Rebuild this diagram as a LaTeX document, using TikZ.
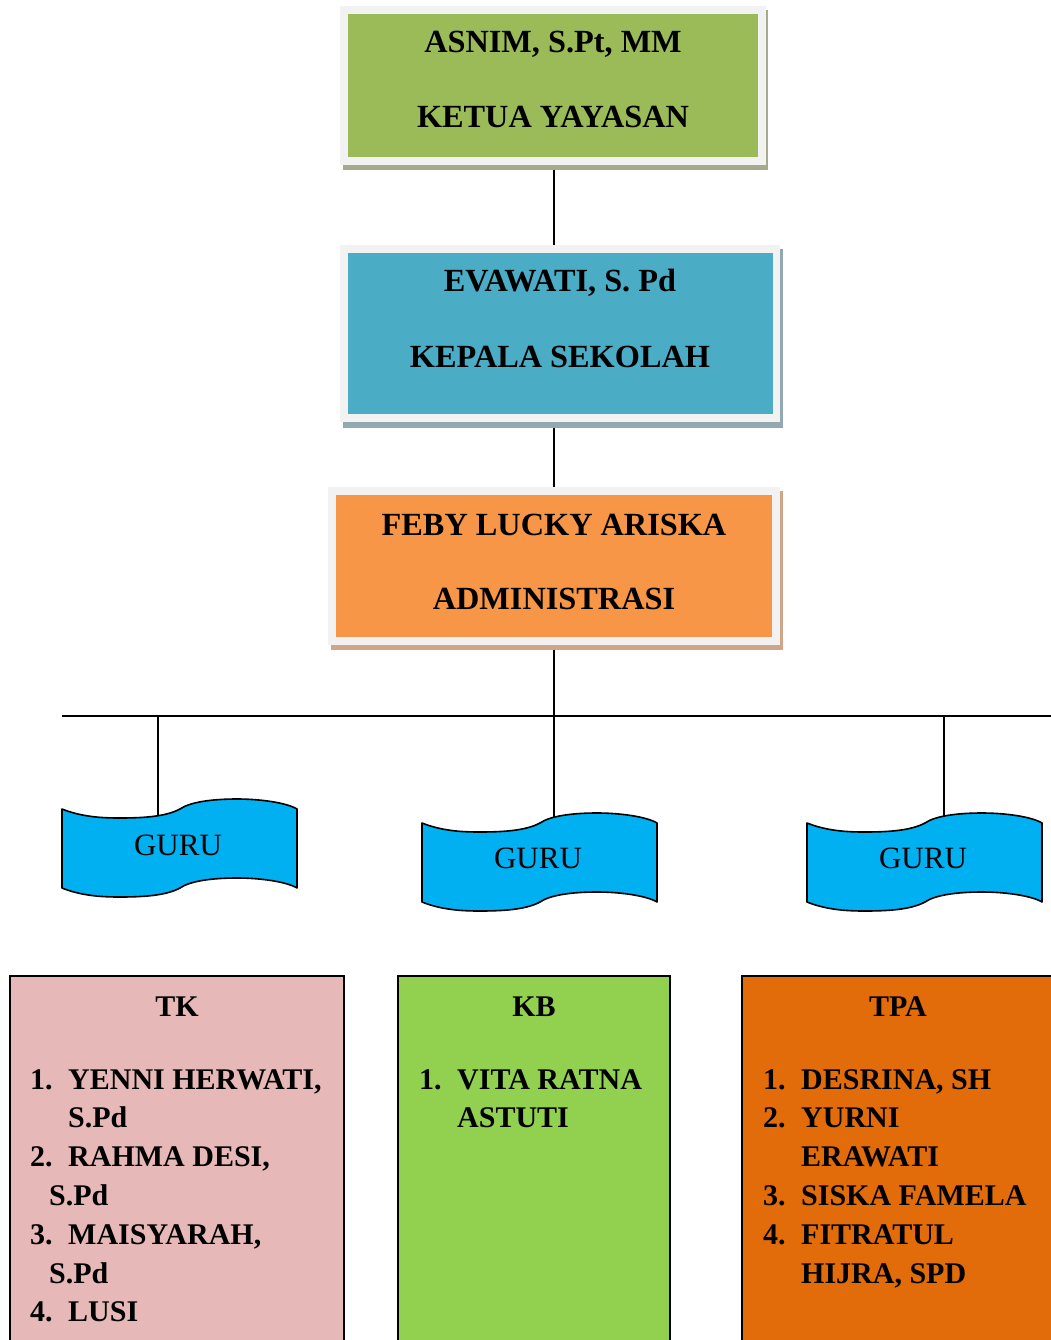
\documentclass[tikz,border=0pt]{standalone}
\usepackage{fontspec}
\setmainfont{Liberation Serif}
\usetikzlibrary{backgrounds}
\definecolor{cGreen}{HTML}{9BBB59}
\definecolor{cBlue}{HTML}{4BACC6}
\definecolor{cOrange}{HTML}{F79646}
\definecolor{sGreen}{HTML}{A4AB8D}
\definecolor{sBlue}{HTML}{93A9B1}
\definecolor{sOrange}{HTML}{D0A688}
\definecolor{frameGray}{HTML}{F2F2F2}
\definecolor{guruBlue}{HTML}{00B0F0}
\definecolor{tkPink}{HTML}{E6B8B7}
\definecolor{kbGreen}{HTML}{92D050}
\definecolor{tpaOrange}{HTML}{E26B0A}
\tikzset{
  plain/.style={inner sep=0pt, outer sep=0pt, draw=none},
  ttl/.style={font=\fontsize{32.3}{36}\selectfont\bfseries, inner sep=0pt, anchor=base},
  lst/.style={font=\fontsize{30}{36}\selectfont\bfseries, inner sep=0pt, anchor=base west},
  gtx/.style={font=\fontsize{31}{36}\selectfont, inner sep=0pt},
  conn/.style={draw=black, line width=1.3pt},
  unitbox/.style={draw=black, line width=1.5pt, inner sep=0pt, outer sep=0pt, anchor=north west, minimum height=420},
  wavestyle/.style={draw=black, fill=guruBlue, line width=1.6pt, line join=round},
  wave/.pic={
    \path[wavestyle] (0,0) .. controls (20,8) and (40,9) .. (58,9)
      .. controls (85,9) and (105,7) .. (118,0)
      .. controls (128,-7) and (150,-10) .. (175,-10)
      .. controls (200,-10) and (225,-6) .. (235,0)
      -- (235,79)
      .. controls (225,73) and (200,69) .. (175,69)
      .. controls (150,69) and (128,72) .. (118,79)
      .. controls (105,86) and (85,88) .. (58,88)
      .. controls (40,88) and (20,87) .. (0,79) -- cycle;
  }
}
\begin{document}
\begin{tikzpicture}[x=1pt,y=-1pt]
\useasboundingbox (0,0) rectangle (1051,1340);
\clip (0,0) rectangle (1051,1340);

% ---- box 1
\node[plain, fill=sGreen, minimum width=425, minimum height=160] (b1s) at (555.5,90) {};
\node[plain, fill=frameGray, minimum width=426, minimum height=159] (b1) at (553,85.5) {};
\node[plain, fill=cGreen, minimum width=410, minimum height=143] (b1i) at (553,85.5) {};
\node[ttl] (t1a) at (553,53) {ASNIM, S.Pt, MM};
\node[ttl] (t1b) at (553,128) {KETUA YAYASAN};

% ---- box 2
\node[plain, fill=sBlue, minimum width=440, minimum height=179] (b2s) at (563,338.5) {};
\node[plain, fill=frameGray, minimum width=440, minimum height=177] (b2) at (560,333.5) {};
\node[plain, fill=cBlue, minimum width=425, minimum height=161] (b2i) at (560.5,333.5) {};
\node[ttl] (t2a) at (560,291) {EVAWATI, S. Pd};
\node[ttl] (t2b) at (560,367) {KEPALA SEKOLAH};

% ---- box 3
\node[plain, fill=sOrange, minimum width=452, minimum height=159] (b3s) at (557,570.5) {};
\node[plain, fill=frameGray, minimum width=452, minimum height=158] (b3) at (554,566) {};
\node[plain, fill=cOrange, minimum width=436, minimum height=142] (b3i) at (554,566) {};
\node[ttl] (t3a) at (554,535) {FEBY LUCKY ARISKA};
\node[ttl] (t3b) at (554,609) {ADMINISTRASI};

% ---- bus coordinates
\coordinate (busL) at (62,716);
\coordinate (busR) at (1051,716);
\coordinate (jL) at (158,716);
\coordinate (jM) at (554,716);
\coordinate (jR) at (944,716);

% ---- GURU waves
\pic at (62,809) {wave};
\node[gtx] (gL) at (178,845) {GURU};
\pic at (422,823) {wave};
\node[gtx] (gM) at (538,858) {GURU};
\pic at (807,823) {wave};
\node[gtx] (gR) at (923,858) {GURU};

% ---- connectors (behind)
\begin{pgfonlayer}{background}
\draw[conn] (b1.south -| jM) -- (b2.north -| jM);
\draw[conn] (b2.south -| jM) -- (b3.north -| jM);
\draw[conn] (b3.south -| jM) -- (jM) -- (jM |- gM.center);
\draw[conn] (busL) -- (busR);
\draw[conn] (jL) -- (jL |- gL.center);
\draw[conn] (jR) -- (jR |- gR.center);
\end{pgfonlayer}

% ---- unit boxes
\node[unitbox, fill=tkPink, minimum width=334] (tk) at (10,976) {};
\node[unitbox, fill=kbGreen, minimum width=272] (kb) at (398,976) {};
\node[unitbox, fill=tpaOrange, minimum width=312] (tpa) at (742,976) {};

\node[ttl, font=\fontsize{30}{36}\selectfont\bfseries] (tkT) at (177,1016) {TK};
\node[ttl, font=\fontsize{30}{36}\selectfont\bfseries] (kbT) at (534,1016) {KB};
\node[ttl, font=\fontsize{30}{36}\selectfont\bfseries] (tpaT) at (898,1016) {TPA};

% TK list
\node[lst] (tk1n) at (30,1089) {1.};
\node[lst] (tk1) at (68,1089) {YENNI HERWATI,};
\node[lst] (tk1b) at (68,1127.8) {S.Pd};
\node[lst] (tk2n) at (30,1166.6) {2.};
\node[lst] (tk2) at (68,1166.6) {RAHMA DESI,};
\node[lst] (tk2b) at (49,1205.4) {S.Pd};
\node[lst] (tk3n) at (30,1244.2) {3.};
\node[lst] (tk3) at (68,1244.2) {MAISYARAH,};
\node[lst] (tk3b) at (49,1283) {S.Pd};
\node[lst] (tk4n) at (30,1321.8) {4.};
\node[lst] (tk4) at (68,1321.8) {LUSI};

% KB list
\node[lst] (kb1n) at (419,1089) {1.};
\node[lst] (kb1) at (457,1089) {VITA RATNA};
\node[lst] (kb1b) at (457,1127.8) {ASTUTI};

% TPA list
\node[lst] (tp1n) at (763,1089) {1.};
\node[lst] (tp1) at (801,1089) {DESRINA, SH};
\node[lst] (tp2n) at (763,1127.8) {2.};
\node[lst] (tp2) at (801,1127.8) {YURNI};
\node[lst] (tp2b) at (801,1166.6) {ERAWATI};
\node[lst] (tp3n) at (763,1205.4) {3.};
\node[lst] (tp3) at (801,1205.4) {SISKA FAMELA};
\node[lst] (tp4n) at (763,1244.2) {4.};
\node[lst] (tp4) at (801,1244.2) {FITRATUL};
\node[lst] (tp4b) at (801,1283) {HIJRA, SPD};
\end{tikzpicture}
\end{document}
